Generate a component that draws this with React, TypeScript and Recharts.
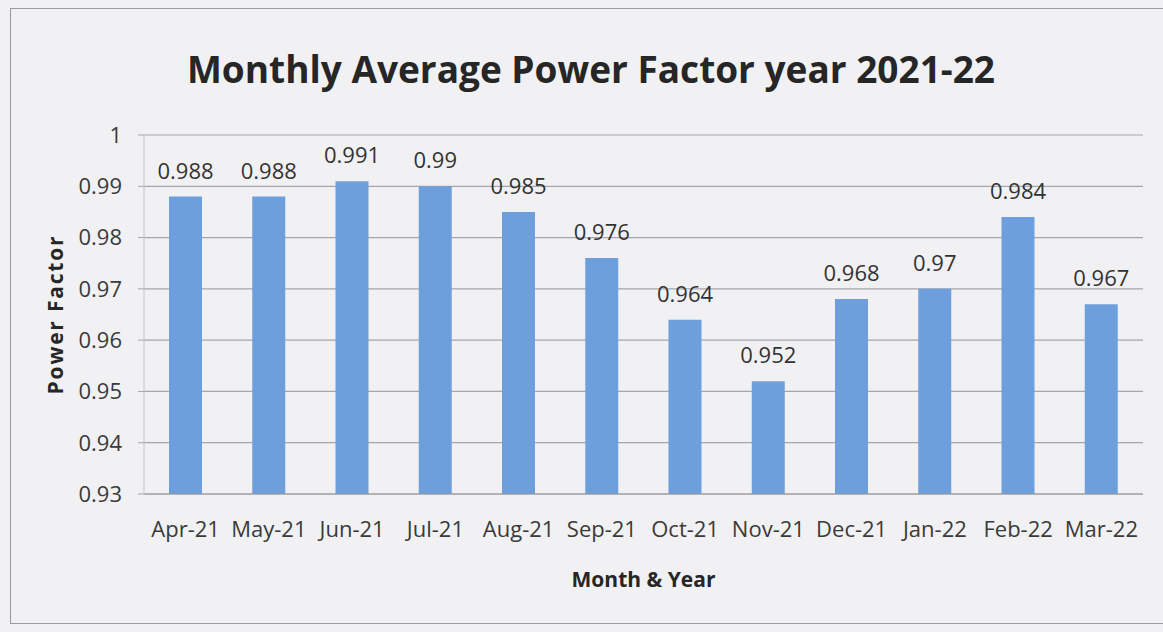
import { BarChart, Bar, XAxis, YAxis, CartesianGrid, LabelList } from "recharts";

const months = ["Apr-21", "May-21", "Jun-21", "Jul-21", "Aug-21", "Sep-21", "Oct-21", "Nov-21", "Dec-21", "Jan-22", "Feb-22", "Mar-22"];
const powerFactor = [0.988, 0.988, 0.991, 0.99, 0.985, 0.976, 0.964, 0.952, 0.968, 0.97, 0.984, 0.967];
const yTicks = [0.93, 0.94, 0.95, 0.96, 0.97, 0.98, 0.99, 1];

const data = months.map((m, i) => ({ month: m, pf: powerFactor[i] }));

const FONT = "'Open Sans', sans-serif";
const BG = "#f1f1f4";

export default function App() {
  return (
    <div style={{ position: "absolute", left: 0, top: 0, width: 1163, height: 632, background: BG, fontFamily: FONT }}>
      {/* scanned frame */}
      <div style={{ position: "absolute", left: 10, top: 8, width: 1160, height: 616, border: "1.5px solid #9a9a9a", boxSizing: "border-box" }} />
      <div style={{ position: "absolute", left: 0, top: 43, width: 1182, textAlign: "center", fontSize: 37, fontWeight: 700, color: "#262626" }}>
        Monthly Average Power Factor year 2021-22
      </div>
      <div style={{ position: "absolute", left: 0, top: 0 }}>
        <BarChart width={1163} height={632} data={data} margin={{ top: 135, right: 20, left: 0, bottom: 0 }}>
          <CartesianGrid vertical={false} stroke="#a6a6a8" strokeWidth={1.2} />
          <XAxis
            dataKey="month"
            height={138}
            tickSize={0}
            tickMargin={27}
            axisLine={{ stroke: "#9a9a9c", strokeWidth: 1.2 }}
            tick={{ fill: "#3a3a3a", fontSize: 22, fontFamily: FONT }}
            interval={0}
            label={({ viewBox }: any) => (
              <text x={viewBox.x + viewBox.width / 2} y={587} textAnchor="middle" fontSize={21} fontWeight={700} fontFamily={FONT} fill="#262626">
                Month &amp; Year
              </text>
            )}
          />
          <YAxis
            width={144}
            domain={[0.93, 1]}
            ticks={yTicks}
            interval={0}
            tickSize={6}
            tickMargin={16}
            tickFormatter={(v: number) => String(v)}
            tickLine={{ stroke: "#a6a6a8" }}
            axisLine={{ stroke: "#c4c4c8" }}
            tick={{ fill: "#3a3a3a", fontSize: 22, fontFamily: FONT }}
            label={({ viewBox }: any) => {
              const cy = viewBox.y + viewBox.height / 2;
              return (
                <text x={55} y={cy} transform={`rotate(-90 55 ${cy})`} textAnchor="middle" dominantBaseline="central" fontSize={21} fontWeight={700} letterSpacing={1.8} fontFamily={FONT} fill="#262626">
                  Power Factor
                </text>
              );
            }}
          />
          <Bar dataKey="pf" fill="#6c9fdc" barSize={33} isAnimationActive={false}>
            <LabelList dataKey="pf" position="top" offset={18} fill="#333" fontSize={22} fontFamily={FONT} />
          </Bar>
        </BarChart>
      </div>
    </div>
  );
}
